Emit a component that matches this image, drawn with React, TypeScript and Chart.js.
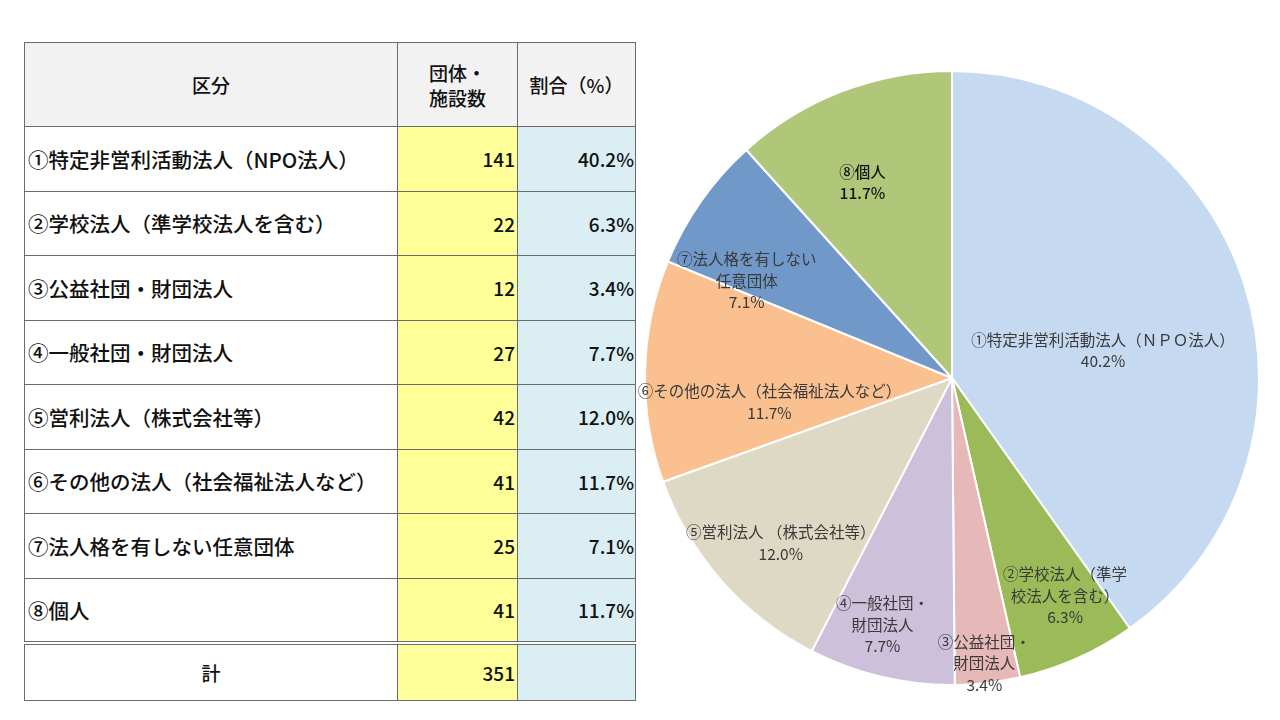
import React, { useEffect, useRef } from "react";
import { Chart, registerables } from "chart.js";

Chart.register(...registerables);

// ---- data ----
const categories = [
  "①特定非営利活動法人（NPO法人）",
  "②学校法人（準学校法人を含む）",
  "③公益社団・財団法人",
  "④一般社団・財団法人",
  "⑤営利法人（株式会社等）",
  "⑥その他の法人（社会福祉法人など）",
  "⑦法人格を有しない任意団体",
  "⑧個人",
];
const counts = [141, 22, 12, 27, 42, 41, 25, 41];
const pieLabelLines = [
  ["①特定非営利活動法人（ＮＰＯ法人）"],
  ["②学校法人（準学", "校法人を含む）"],
  ["③公益社団・", "財団法人"],
  ["④一般社団・", "財団法人"],
  ["⑤営利法人 （株式会社等）"],
  ["⑥その他の法人（社会福祉法人など）"],
  ["⑦法人格を有しない", "任意団体"],
  ["⑧個人"],
];
const headerLabels = ["区分", "団体・\n施設数", "割合（%）"];
const totalLabel = "計";

// ---- styles ----
const sliceColors = ["#C5D9F1", "#9BBB59", "#E6B9B8", "#CCC0DA", "#DDD9C4", "#FAC090", "#7099C9", "#B0C77A"];
// label placement: [angle offset (deg) from slice middle, radius fraction]
const labelPlacement: [number, number][] = [
  [7.4, 0.5],
  [-3.3, 0.8],
  [0.2, 0.935],
  [2.4, 0.835],
  [-2.7, 0.775],
  [-8.8, 0.6],
  [-9.8, 0.74],
  [-3.6, 0.7],
];
const labelColors = ["#3a3a3a", "#3a3a3a", "#3a3a3a", "#3a3a3a", "#3a3a3a", "#3a3a3a", "#3a3a3a", "#151515"];

const total = counts.reduce((a, b) => a + b, 0);
const pct = (v: number) => ((v / total) * 100).toFixed(1) + "%";

const labelPlugin = {
  id: "sliceLabels",
  afterDatasetsDraw(chart: any) {
    const meta = chart.getDatasetMeta(0);
    const ctx = chart.ctx;
    ctx.save();
    ctx.textAlign = "center";
    ctx.textBaseline = "middle";
    meta.data.forEach((arc: any, i: number) => {
      const p = arc.getProps(["x", "y", "startAngle", "endAngle", "outerRadius"], true);
      const [off, frac] = labelPlacement[i];
      const a = (p.startAngle + p.endAngle) / 2 + (off * Math.PI) / 180;
      const cx = p.x + Math.cos(a) * p.outerRadius * frac;
      const cy = p.y + Math.sin(a) * p.outerRadius * frac;
      const lines = [...pieLabelLines[i], pct(counts[i])];
      const lh = 21.5;
      const y0 = cy - ((lines.length - 1) * lh) / 2;
      ctx.font = (i === 7 ? "500 " : "") + '15.5px "Noto Sans CJK JP", sans-serif';
      ctx.fillStyle = labelColors[i];
      lines.forEach((t, k) => ctx.fillText(t, cx, y0 + k * lh));
    });
    ctx.restore();
  },
};

const border = "1px solid #6b6b6b";
const cellBase: React.CSSProperties = {
  border,
  padding: 0,
  fontWeight: 500,
  fontSize: 20.5,
  color: "#111",
  overflow: "hidden",
  whiteSpace: "nowrap",
};
const numFont = '"Liberation Sans Narrow", "Noto Sans CJK JP", sans-serif';

export default function App() {
  const canvasRef = useRef<HTMLCanvasElement | null>(null);

  useEffect(() => {
    if (!canvasRef.current) return;
    const chart = new Chart(canvasRef.current, {
      type: "pie",
      data: {
        labels: categories,
        datasets: [
          {
            data: counts,
            backgroundColor: sliceColors,
            borderColor: "#ffffff",
            borderWidth: 2,
          },
        ],
      },
      options: {
        animation: false,
        responsive: false,
        maintainAspectRatio: false,
        layout: { padding: 12 },
        plugins: { legend: { display: false }, tooltip: { enabled: false } },
      },
      plugins: [labelPlugin],
    });
    return () => chart.destroy();
  }, []);

  const rowH = 64.5;
  const dbl = "4px double #6b6b6b";

  return (
    <div
      style={{
        position: "absolute",
        left: 0,
        top: 0,
        width: 1280,
        height: 720,
        background: "#ffffff",
        fontFamily: '"Noto Sans CJK JP", sans-serif',
        overflow: "hidden",
      }}
    >
      <table
        style={{
          position: "absolute",
          left: 24,
          top: 42,
          width: 611,
          borderCollapse: "collapse",
          tableLayout: "fixed",
        }}
      >
        <colgroup>
          <col style={{ width: 373 }} />
          <col style={{ width: 120 }} />
          <col style={{ width: 118 }} />
        </colgroup>
        <tbody>
          <tr style={{ height: 84 }}>
            {headerLabels.map((h, i) => (
              <td
                key={i}
                style={{
                  ...cellBase,
                  background: "#F2F2F2",
                  textAlign: "center",
                  fontSize: 19,
                  lineHeight: "25px",
                  whiteSpace: "pre-line",
                }}
              >
                {h}
              </td>
            ))}
          </tr>
          {categories.map((c, i) => (
            <tr key={i} style={{ height: rowH }}>
              <td style={{ ...cellBase, paddingLeft: 3, textAlign: "left" }}>{c}</td>
              <td
                style={{
                  ...cellBase,
                  background: "#FFFF99",
                  textAlign: "right",
                  paddingRight: 2,
                  fontFamily: numFont,
                  fontSize: 19,
                }}
              >
                {counts[i]}
              </td>
              <td
                style={{
                  ...cellBase,
                  background: "#DAEEF3",
                  textAlign: "right",
                  paddingRight: 1,
                  fontFamily: numFont,
                  fontSize: 19,
                }}
              >
                {pct(counts[i])}
              </td>
            </tr>
          ))}
          <tr style={{ height: 58 }}>
            <td style={{ ...cellBase, textAlign: "center", borderTop: dbl, fontSize: 19 }}>{totalLabel}</td>
            <td
              style={{
                ...cellBase,
                background: "#FFFF99",
                textAlign: "right",
                paddingRight: 2,
                fontFamily: numFont,
                fontSize: 19,
                borderTop: dbl,
              }}
            >
              {total}
            </td>
            <td style={{ ...cellBase, background: "#DAEEF3", borderTop: dbl }}></td>
          </tr>
        </tbody>
      </table>
      <canvas
        ref={canvasRef}
        width={640}
        height={640}
        style={{ position: "absolute", left: 632, top: 58, width: 640, height: 640 }}
      />
    </div>
  );
}
